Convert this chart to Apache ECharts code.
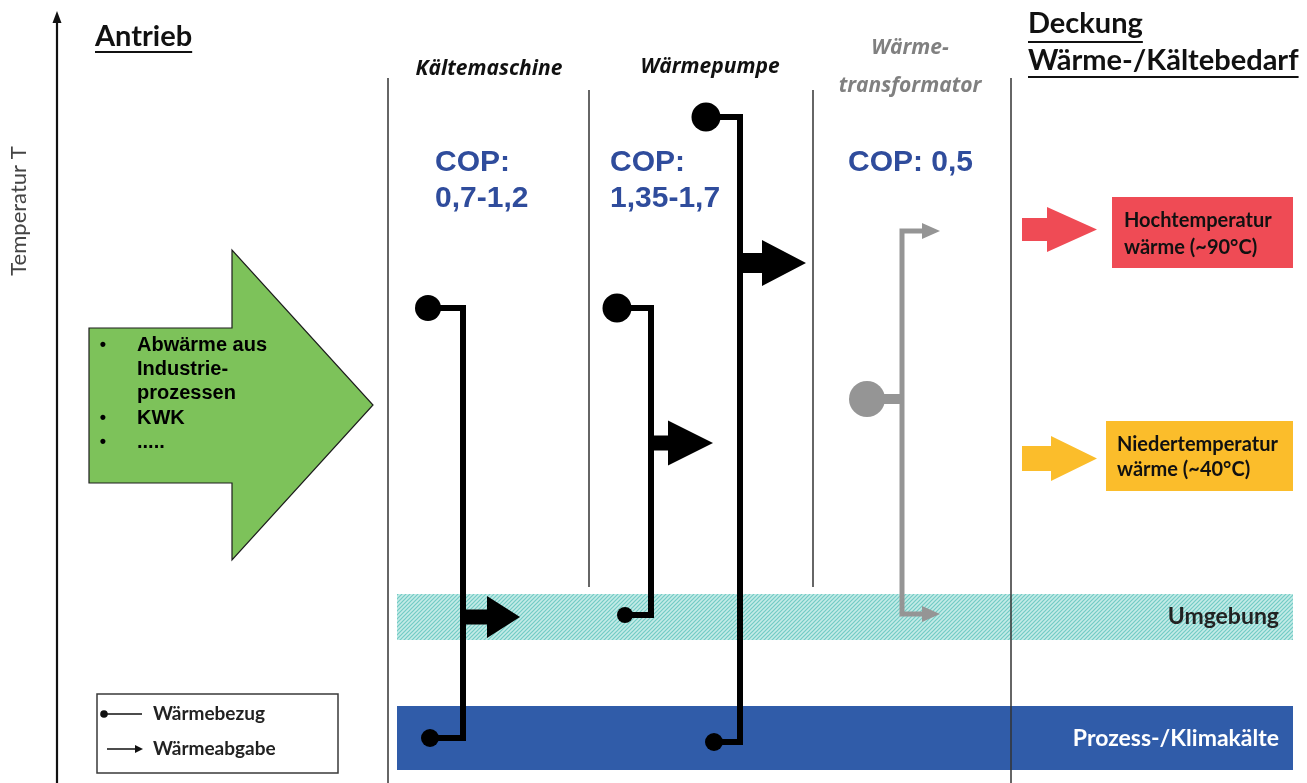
<!DOCTYPE html>
<html><head><meta charset="utf-8">
<script src="https://cdn.jsdelivr.net/npm/echarts@6/dist/echarts.min.js"></script>
<style>html,body{margin:0;padding:0;background:#fff}#c{width:1307px;height:783px}</style>
</head><body><div id="c"></div>
<script>
// ---------- texts ----------
const axisTitle = 'Temperatur T';
const leftHeader = 'Antrieb';
const rightHeader = ['Deckung', 'Wärme-/Kältebedarf'];
const columnTitles = ['Kältemaschine', 'Wärmepumpe', 'Wärme-', 'transformator'];
const copLabels = ['COP:', '0,7-1,2', 'COP:', '1,35-1,7', 'COP: 0,5'];
const sourceItems = ['Abwärme aus', 'Industrie-', 'prozessen', 'KWK', '.....'];
const sourceBullets = [true, false, false, true, true];
const demandLabels = [['Hochtemperatur', 'wärme (~90°C)'], ['Niedertemperatur', 'wärme (~40°C)']];
const bandLabels = ['Umgebung', 'Prozess-/Klimakälte'];
const legendLabels = ['Wärmebezug', 'Wärmeabgabe'];

// ---------- diagram geometry (diagram units, temperature grows upward) ----------
const bandRects = [[397, 594, 1293, 640], [397, 706, 1293, 770]];
const dividers = [[388, 78, 783], [589, 90, 587], [813, 90, 587], [1011, 78, 783]];
const kmPath = [[428, 308], [463, 308], [463, 738], [430, 738]];
const wpHotPath = [[706, 117], [740, 117], [740, 742], [714, 742]];
const wpLowPath = [[617, 308], [651, 308], [651, 615], [625, 615]];
const wtPath = [[924, 231], [902, 231], [902, 614], [924, 614]];
const wtBranch = [[867, 399], [902, 399]];
const blackDots = [[428, 308], [430, 738], [706, 117], [714, 742], [617, 308], [625, 615]];
const grayDot = [867, 399];
const outArrows = [[463, 617, 520], [651, 443, 713], [740, 263, 806]];
const grayArrowTips = [[940, 231], [940, 614]];
const sourceArrow = [[89, 328], [232, 328], [232, 250], [373, 405], [232, 560], [232, 483], [89, 483]];
const demandArrows = [[1022, 229.5, 1097], [1022, 458.5, 1097]];
const demandBoxes = [[1112, 197, 1293, 268], [1106, 421, 1293, 491]];
const legendBox = [97, 694, 338, 773];

// ---------- styles ----------
const BLUE = '#2f4c9c';
const dotR = [13, 9, 14.5, 9, 14.5, 8];
const outArrowStyle = [[7.5, 33, 21], [7.5, 45, 22.5], [10, 44, 23]]; // shaftHalf, headLen, headHalf
const demandArrowStyle = [[11.5, 50, 22.5], [12.5, 46, 22.5]];
const demandColors = ['#ef4b55', '#fbbd2b'];

function hatch() {
  const c = document.createElement('canvas');
  c.width = 4; c.height = 4;
  const g = c.getContext('2d');
  g.fillStyle = '#c4ebe7'; g.fillRect(0, 0, 4, 4);
  g.strokeStyle = '#72cbc4'; g.lineWidth = 1.2;
  g.beginPath(); g.moveTo(0, 4); g.lineTo(4, 0); g.moveTo(-1, 1); g.lineTo(1, -1); g.moveTo(3, 5); g.lineTo(5, 3); g.stroke();
  return c;
}
const hatchCanvas = hatch();
const measureCtx = document.createElement('canvas').getContext('2d');
function textW(t, font) { measureCtx.font = font; return measureCtx.measureText(t).width; }

const FONT_C = 'Lato, "Open Sans", sans-serif';
const FONT_O = '"Open Sans", Lato, sans-serif';
const FONT_A = '"Liberation Sans", Arial, sans-serif';

function renderItem(params, api) {
  const P = (x, y) => api.coord([x, y]);
  const ch = [];
  const rect = (r, style) => {
    const a = P(r[0], r[1]), b = P(r[2], r[3]);
    ch.push({ type: 'rect', shape: { x: a[0], y: a[1], width: b[0] - a[0], height: b[1] - a[1] }, style });
  };
  const poly = (pts, style) => ch.push({ type: 'polyline', shape: { points: pts.map(p => P(p[0], p[1])) }, style: Object.assign({ fill: null, lineJoin: 'miter', lineCap: 'butt' }, style) });
  const polygon = (pts, style) => ch.push({ type: 'polygon', shape: { points: pts.map(p => P(p[0], p[1])) }, style });
  const circle = (c, r, fill) => { const p = P(c[0], c[1]); ch.push({ type: 'circle', shape: { cx: p[0], cy: p[1], r }, style: { fill } }); };
  const text = (t, x, y, font, fill, align, extra) => {
    const p = P(x, y);
    ch.push(Object.assign({ type: 'text', x: p[0], y: p[1], style: { text: t, font, fill, align: align || 'left', verticalAlign: 'middle' } }, extra || {}));
  };
  const blockArrow = (tail, y, tip, sh, hl, hh) => [[tail, y - sh], [tip - hl, y - sh], [tip - hl, y - hh], [tip, y], [tip - hl, y + hh], [tip - hl, y + sh], [tail, y + sh]];
  const underline = (t, x, y, font, uy) => { const w = textW(t, font); text(t, x, y, font, '#111', 'left'); poly([[x, uy], [x + w, uy]], { stroke: '#111', lineWidth: 2.2 }); };

  // bands
  rect(bandRects[0], { fill: { image: hatchCanvas, repeat: 'repeat' } });
  rect(bandRects[1], { fill: '#305ca9' });

  // dividers
  dividers.forEach(d => poly([[d[0], d[1]], [d[0], d[2]]], { stroke: '#333', lineWidth: 1.5 }));

  // temperature axis
  poly([[57, 783], [57, 20]], { stroke: '#111', lineWidth: 2.2 });
  polygon([[57, 11], [52.5, 23], [61.5, 23]], { fill: '#111' });

  // source arrow
  polygon(sourceArrow, { fill: '#7dc25a', stroke: '#1d1d1d', lineWidth: 1.2 });

  // connectors
  [kmPath, wpHotPath, wpLowPath].forEach(p => poly(p, { stroke: '#000', lineWidth: 6 }));
  poly(wtPath, { stroke: '#959595', lineWidth: 5 });
  poly(wtBranch, { stroke: '#959595', lineWidth: 10 });
  outArrows.forEach((a, i) => { const s = outArrowStyle[i]; polygon(blockArrow(a[0], a[1], a[2], s[0], s[1], s[2]), { fill: '#000' }); });
  grayArrowTips.forEach(t => polygon([[t[0], t[1]], [t[0] - 18, t[1] - 8], [t[0] - 18, t[1] + 8]], { fill: '#959595' }));
  blackDots.forEach((d, i) => circle(d, dotR[i], '#000'));
  circle(grayDot, 18, '#959595');

  // demand arrows and boxes
  demandArrows.forEach((a, i) => { const s = demandArrowStyle[i]; polygon(blockArrow(a[0], a[1], a[2], s[0], s[1], s[2]), { fill: demandColors[i] }); });
  demandBoxes.forEach((b, i) => rect(b, { fill: demandColors[i] }));

  // legend
  rect(legendBox, { fill: '#fff', stroke: '#3a3a3a', lineWidth: 1.5 });
  poly([[104, 714], [142, 714]], { stroke: '#111', lineWidth: 1.5 });
  circle([104, 714], 3.8, '#111');
  poly([[107, 749], [136, 749]], { stroke: '#111', lineWidth: 1.5 });
  polygon([[143, 749], [135, 745], [135, 753]], { fill: '#111' });

  // texts
  text(axisTitle, 19, 211, '22px ' + FONT_C, '#444', 'center', { rotation: Math.PI / 2 });
  underline(leftHeader, 95, 37, 'bold 29px ' + FONT_C, 52);
  underline(rightHeader[0], 1028, 24, 'bold 29px ' + FONT_C, 42);
  underline(rightHeader[1], 1028, 61, 'bold 29px ' + FONT_C, 77);
  const ctFont = 'italic bold 21px ' + FONT_O;
  text(columnTitles[0], 489, 69, ctFont, '#111', 'center');
  text(columnTitles[1], 710, 67, ctFont, '#111', 'center');
  text(columnTitles[2], 910, 48, ctFont, '#808080', 'center');
  text(columnTitles[3], 910, 86, ctFont, '#808080', 'center');
  const copFont = 'bold 30px ' + FONT_A;
  text(copLabels[0], 435, 163, copFont, BLUE);
  text(copLabels[1], 435, 199, copFont, BLUE);
  text(copLabels[2], 610, 163, copFont, BLUE);
  text(copLabels[3], 610, 199, copFont, BLUE);
  text(copLabels[4], 848, 163, copFont, BLUE);
  const srcY = [345, 369, 393, 418, 442];
  sourceItems.forEach((t, i) => {
    if (sourceBullets[i]) text('•', 103, srcY[i], 'bold 18px ' + FONT_A, '#000', 'center');
    text(t, 137, srcY[i], 'bold 20px ' + FONT_A, '#000');
  });
  const boxFont = 'bold 20px ' + FONT_C;
  text(demandLabels[0][0], 1124, 221, boxFont, '#111');
  text(demandLabels[0][1], 1124, 248, boxFont, '#111');
  text(demandLabels[1][0], 1117, 445, boxFont, '#111');
  text(demandLabels[1][1], 1117, 470, boxFont, '#111');
  text(bandLabels[0], 1279, 617, 'bold 23px ' + FONT_C, '#222', 'right');
  text(bandLabels[1], 1279, 739, 'bold 23px ' + FONT_C, '#fff', 'right');
  text(legendLabels[0], 153, 714, 'bold 19px ' + FONT_C, '#222');
  text(legendLabels[1], 153, 749, 'bold 19px ' + FONT_C, '#222');

  return { type: 'group', children: ch };
}

const chart = echarts.init(document.getElementById('c'), null, { renderer: 'canvas' });
chart.setOption({
  animation: false,
  backgroundColor: '#fff',
  grid: { left: 0, right: 0, top: 0, bottom: 0 },
  xAxis: { type: 'value', min: 0, max: 1307, show: false },
  yAxis: { type: 'value', min: 0, max: 783, inverse: true, show: false },
  series: [{ type: 'custom', coordinateSystem: 'cartesian2d', data: [[0, 0]], clip: false, silent: true, renderItem }]
});
</script></body></html>
